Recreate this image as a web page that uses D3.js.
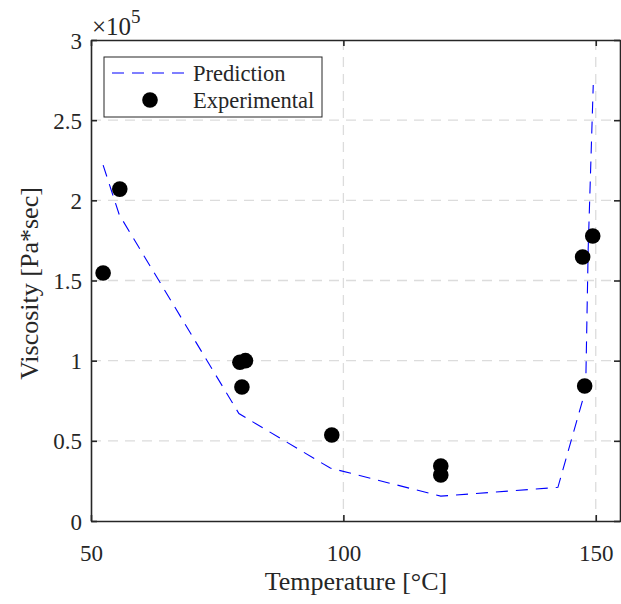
<!DOCTYPE html>
<html><head><meta charset="utf-8">
<script src="https://cdn.jsdelivr.net/npm/d3@7"></script>
<style>body{margin:0;background:#fff}svg{display:block}</style>
</head><body>
<svg id="c" width="621" height="604"></svg>
<script>
const xTicks = [50, 100, 150];
const yTicks = [0, 0.5, 1, 1.5, 2, 2.5, 3];
const yTickLabels = ["0", "0.5", "1", "1.5", "2", "2.5", "3"];
const predT = [52.4, 55.6, 79.3, 97.4, 119.3, 142.5, 148.0, 148.5, 149.5];
const predV = [2.22, 1.91, 0.67, 0.33, 0.155, 0.21, 0.82, 1.70, 2.72];
const expT = [52.4, 55.7, 79.5, 80.6, 79.9, 97.7, 119.3, 119.3, 147.4, 149.4, 147.8];
const expV = [1.547, 2.07, 0.99, 1.0, 0.836, 0.536, 0.343, 0.287, 1.647, 1.778, 0.842];
const legendLabels = ["Prediction", "Experimental"];

const svg = d3.select("#c");
const L = 91, R = 621, T = 40, B = 521;
const x = d3.scaleLinear().domain([50, 155]).range([L, R]);
const y = d3.scaleLinear().domain([0, 3]).range([B, T]);
const font = "'Liberation Serif','Times New Roman',serif";
const axCol = "#262626";

// grid
const g = svg.append("g");
g.selectAll(".gx").data(xTicks.filter(d => d > 50)).enter().append("line")
  .attr("x1", d => x(d)).attr("x2", d => x(d)).attr("y1", T).attr("y2", B)
  .attr("stroke", "#dcdcdc").attr("stroke-width", 1.3).attr("stroke-dasharray", "10,7");
g.selectAll(".gy").data(yTicks.filter(d => d > 0 && d < 3)).enter().append("line")
  .attr("x1", L).attr("x2", R).attr("y1", d => y(d)).attr("y2", d => y(d))
  .attr("stroke", "#dcdcdc").attr("stroke-width", 1.3).attr("stroke-dasharray", "10,7");

// axes
const xAxis = d3.axisBottom(x).tickValues(xTicks).tickSizeInner(-6).tickSizeOuter(0).tickPadding(40);
const yAxis = d3.axisLeft(y).tickValues(yTicks).tickFormat((d, i) => yTickLabels[i]).tickSizeInner(-6).tickSizeOuter(0).tickPadding(9);
const xa = svg.append("g").attr("transform", `translate(0,${B})`).call(xAxis);
const ya = svg.append("g").attr("transform", `translate(${L},0)`).call(yAxis);
const xTop = svg.append("g").attr("transform", `translate(0,${T})`).call(d3.axisTop(x).tickValues(xTicks).tickSizeInner(-6).tickSizeOuter(0).tickFormat(""));
const yRight = svg.append("g").attr("transform", `translate(${R - 1},0)`).call(d3.axisRight(y).tickValues(yTicks).tickSizeInner(-6).tickSizeOuter(0).tickFormat(""));
[xa, ya, xTop, yRight].forEach(a => {
  a.select(".domain").attr("stroke", axCol).attr("stroke-width", 1.6);
  a.selectAll(".tick line").attr("stroke", axCol).attr("stroke-width", 1.6);
  a.selectAll("text").attr("fill", axCol).style("font-family", font).style("font-size", "23px");
});
xa.selectAll("text").attr("dy", "0");
ya.selectAll("text").attr("dy", "0.35em");

// prediction line
const line = d3.line().x((d, i) => x(predT[i])).y((d, i) => y(predV[i]));
svg.append("path").datum(predT).attr("d", line).attr("fill", "none")
  .attr("stroke", "#0000ff").attr("stroke-width", 1.1).attr("stroke-dasharray", "12,8");

// experimental
svg.selectAll(".pt").data(expT).enter().append("circle")
  .attr("cx", d => x(d)).attr("cy", (d, i) => y(expV[i])).attr("r", 7.8).attr("fill", "#000");

// labels
svg.append("text").attr("x", 356).attr("y", 590).attr("text-anchor", "middle")
  .style("font-family", font).style("font-size", "26px").attr("fill", axCol).text("Temperature [°C]");
svg.append("text").attr("transform", `translate(38,${(T + B) / 2 + 3}) rotate(-90)`).attr("text-anchor", "middle")
  .style("font-family", font).style("font-size", "26px").attr("fill", axCol).text("Viscosity [Pa*sec]");
const ex = svg.append("text").attr("x", 92).attr("y", 35).style("font-family", font).style("font-size", "25px").attr("fill", axCol);
ex.append("tspan").text("×10");
ex.append("tspan").attr("dy", -12).style("font-size", "19px").text("5");

// legend
const lg = svg.append("g");
lg.append("rect").attr("x", 104).attr("y", 57).attr("width", 218).attr("height", 60)
  .attr("fill", "#fff").attr("stroke", axCol).attr("stroke-width", 1);
lg.append("line").attr("x1", 112).attr("x2", 187).attr("y1", 73).attr("y2", 73)
  .attr("stroke", "#0000ff").attr("stroke-width", 1.1).attr("stroke-dasharray", "12,8");
lg.append("circle").attr("cx", 150).attr("cy", 100).attr("r", 7.8).attr("fill", "#000");
lg.selectAll(".lt").data(legendLabels).enter().append("text")
  .attr("x", 193).attr("y", (d, i) => 81 + i * 27).style("font-family", font).style("font-size", "22.5px")
  .attr("fill", axCol).text(d => d);
</script>
</body></html>
